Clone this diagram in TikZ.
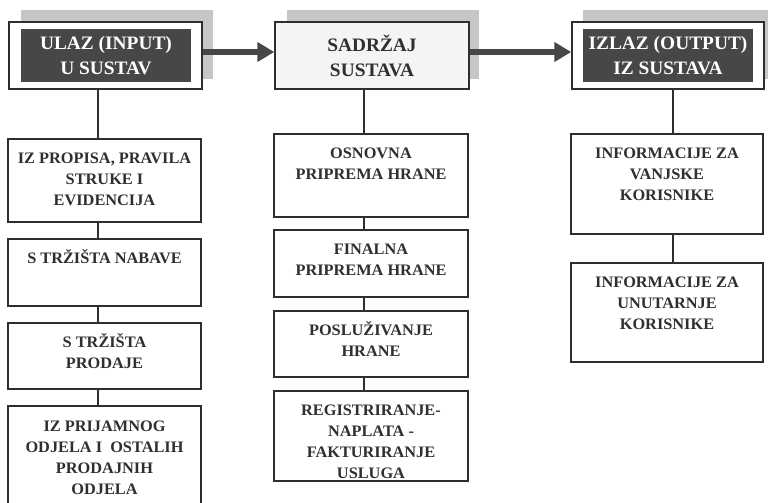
\documentclass[tikz,border=0pt]{standalone}
\usepackage{fontspec}
\setmainfont{Liberation Serif}[FakeStretch=1.02]
\usetikzlibrary{fit,arrows.meta}
\definecolor{ink}{HTML}{2F2F2F}
\definecolor{edge}{HTML}{2E2E2E}
\definecolor{darkfill}{HTML}{474747}
\definecolor{shade}{HTML}{C6C6C6}
\definecolor{pale}{HTML}{F4F4F4}
\tikzset{
  box/.style={draw=edge, line width=1.5pt, fill=white, inner sep=0pt},
  shadowbox/.style={fill=shade, draw=none, inner sep=0pt},
  darkbox/.style={fill=darkfill, draw=none, inner sep=0pt},
  txt/.style={text=ink, align=center, inner sep=0pt, anchor=north,
    font={\bfseries\fontsize{16}{21}\selectfont}},
  toptxt/.style={align=center, inner sep=0pt,
    font={\bfseries\fontsize{19}{25}\selectfont}},
  link/.style={draw=edge, line width=2pt},
  bigarrow/.style={draw=darkfill, line width=6.5pt, -{Triangle[length=17pt,width=19pt]}}
}
\newcommand{\fr}{\rule{0pt}{15pt}}
\begin{document}
\begin{tikzpicture}[x=1pt,y=-1pt]
\useasboundingbox (0,0) rectangle (768,503);
% shadows
\node[shadowbox, fit={(21,10) (213,79)}] (sh1) {};
\node[shadowbox, fit={(287,10) (479,79)}] (sh2) {};
\node[shadowbox, fit={(583,10) (775,79)}] (sh3) {};
% top boxes
\node[box, fit={(9,22) (202,89)}] (top1) {};
\node[box, fill=pale, fit={(275,22) (469,89)}] (top2) {};
\node[box, fit={(572,22) (764,89)}] (top3) {};
\node[darkbox, fit={(21,29) (191,82)}] (d1) {};
\node[darkbox, fit={(583,29) (753,82)}] (d3) {};
\node[toptxt, text=white] (t1) at (d1.center) {ULAZ (INPUT)\\U SUSTAV};
\node[toptxt, text=ink] (t2) at (top2.center) {SADRŽAJ\\SUSTAVA};
\node[toptxt, text=white] (t3) at (d3.center) {IZLAZ (OUTPUT)\\IZ SUSTAVA};
% arrows
\draw[bigarrow] ([yshift=3.5pt]top1.east) -- ([yshift=3.5pt]top2.west);
\draw[bigarrow] ([yshift=3.5pt]top2.east) -- ([yshift=3.5pt]top3.west);
% left column
\node[box, fit={(8,139) (201,222)}] (a) {};
\node[box, fit={(8,239) (201,306)}] (b) {};
\node[box, fit={(8,323) (201,389)}] (c) {};
\node[box, fit={(8,406) (201,520)}] (d) {};
% middle column
\node[box, fit={(274,134) (468,217)}] (e) {};
\node[box, fit={(274,230) (468,297)}] (f) {};
\node[box, fit={(274,311) (468,377)}] (g) {};
\node[box, fit={(274,391) (468,481)}] (h) {};
% right column
\node[box, fit={(571,134) (763,234)}] (i) {};
\node[box, fit={(571,263) (763,362)}] (j) {};
% texts
\node[txt] (ta) at ([yshift=-10pt]a.north) {\fr IZ PROPISA, PRAVILA\\STRUKE I\\EVIDENCIJA};
\node[txt] (tb) at ([yshift=-10pt]b.north) {\fr S TRŽIŠTA NABAVE};
\node[txt] (tc) at ([yshift=-10pt]c.north) {\fr S TRŽIŠTA\\PRODAJE};
\node[txt] (td) at ([yshift=-11pt]d.north) {\fr IZ PRIJAMNOG\\ODJELA I\ \ OSTALIH\\PRODAJNIH\\ODJELA};
\node[txt] (te) at ([yshift=-10pt]e.north) {\fr OSNOVNA\\PRIPREMA HRANE};
\node[txt] (tf) at ([yshift=-10pt]f.north) {\fr FINALNA\\PRIPREMA HRANE};
\node[txt] (tg) at ([yshift=-10pt]g.north) {\fr POSLUŽIVANJE\\HRANE};
\node[txt] (th) at ([yshift=-10pt]h.north) {\fr REGISTRIRANJE-\\NAPLATA -\\FAKTURIRANJE\\USLUGA};
\node[txt] (ti) at ([yshift=-10pt]i.north) {\fr INFORMACIJE ZA\\VANJSKE\\KORISNIKE};
\node[txt] (tj) at ([yshift=-10pt]j.north) {\fr INFORMACIJE ZA\\UNUTARNJE\\KORISNIKE};
% connector x positions
\coordinate (xl) at (98,0);
\coordinate (xm) at (364,0);
\coordinate (xr) at (673,0);
\draw[link] (top1.south -| xl) -- (a.north -| xl);
\draw[link] (a.south -| xl) -- (b.north -| xl);
\draw[link] (b.south -| xl) -- (c.north -| xl);
\draw[link] (c.south -| xl) -- (d.north -| xl);
\draw[link] (top2.south -| xm) -- (e.north -| xm);
\draw[link] (e.south -| xm) -- (f.north -| xm);
\draw[link] (f.south -| xm) -- (g.north -| xm);
\draw[link] (g.south -| xm) -- (h.north -| xm);
\draw[link] (top3.south -| xr) -- (i.north -| xr);
\draw[link] (i.south -| xr) -- (j.north -| xr);
\end{tikzpicture}
\end{document}
